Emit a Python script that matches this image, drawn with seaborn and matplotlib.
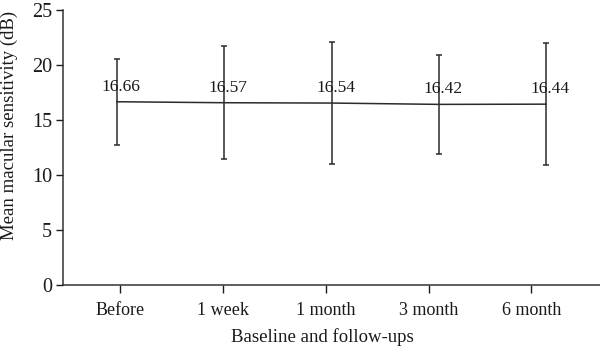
import matplotlib
matplotlib.use("Agg")
import matplotlib.pyplot as plt
import seaborn as sns
import pandas as pd
import numpy as np

categories = ["Before", "1 week", "1 month", "3 month", "6 month"]
means = [16.66, 16.57, 16.54, 16.42, 16.44]
sds = [3.9, 5.13, 5.53, 4.5, 5.53]
labels = ["16.66", "16.57", "16.54", "16.42", "16.44"]

sns.set_theme(style="ticks")
plt.rcParams["font.family"] = ["Liberation Serif", "DejaVu Serif"]

df = pd.DataFrame({"x": np.arange(len(categories)), "mean": means, "sd": sds})

fig = plt.figure(figsize=(6.0, 3.48), dpi=100)
ax = fig.add_axes([63/600, 1 - 285/348, 1 - 63/600 + 0.02, (285 - 10)/348])

col = "#2b2b2b"
sns.lineplot(data=df, x="x", y="mean", ax=ax, color=col, linewidth=1.1, marker=None)
ax.errorbar(df["x"], df["mean"], yerr=df["sd"], fmt="none", ecolor=col,
            elinewidth=1.1, capsize=2.5, capthick=1.1)
for xi, yi, t in zip(df["x"], df["mean"], labels):
    ax.annotate(t, (xi, yi), xytext=(3, 5), textcoords="offset points",
                ha="center", va="bottom", fontsize=12.5, color="#1a1a1a")

ax.set_xlim(-0.5, 4.5 + 0.02 * 600 / 107.4)
ax.set_ylim(0, 25)
ax.set_yticks([0, 5, 10, 15, 20, 25])
ax.set_xticks([0.03 + i * 0.958 for i in range(len(categories))])
ax.set_xticklabels(categories)
ax.tick_params(axis="both", colors="#1a1a1a", length=5, width=1, direction="out")
ax.tick_params(axis="y", labelsize=14.5, pad=3)
ax.tick_params(axis="x", labelsize=13, length=6, pad=6)
ax.set_xlabel("Baseline and follow-ups", fontsize=13.5, color="#1a1a1a", labelpad=7)
ax.xaxis.label.set_x(0.472)
ax.set_ylabel("Mean macular sensitivity (dB)", fontsize=13.5, color="#1a1a1a")
ax.yaxis.set_label_coords(-0.097, 0.58)
ax.yaxis.label.set_va("center")
for s in ["top", "right"]:
    ax.spines[s].set_visible(False)
for s in ["left", "bottom"]:
    ax.spines[s].set_color("#333333")
    ax.spines[s].set_linewidth(1.1)

fig.savefig("out.png", dpi=100)
